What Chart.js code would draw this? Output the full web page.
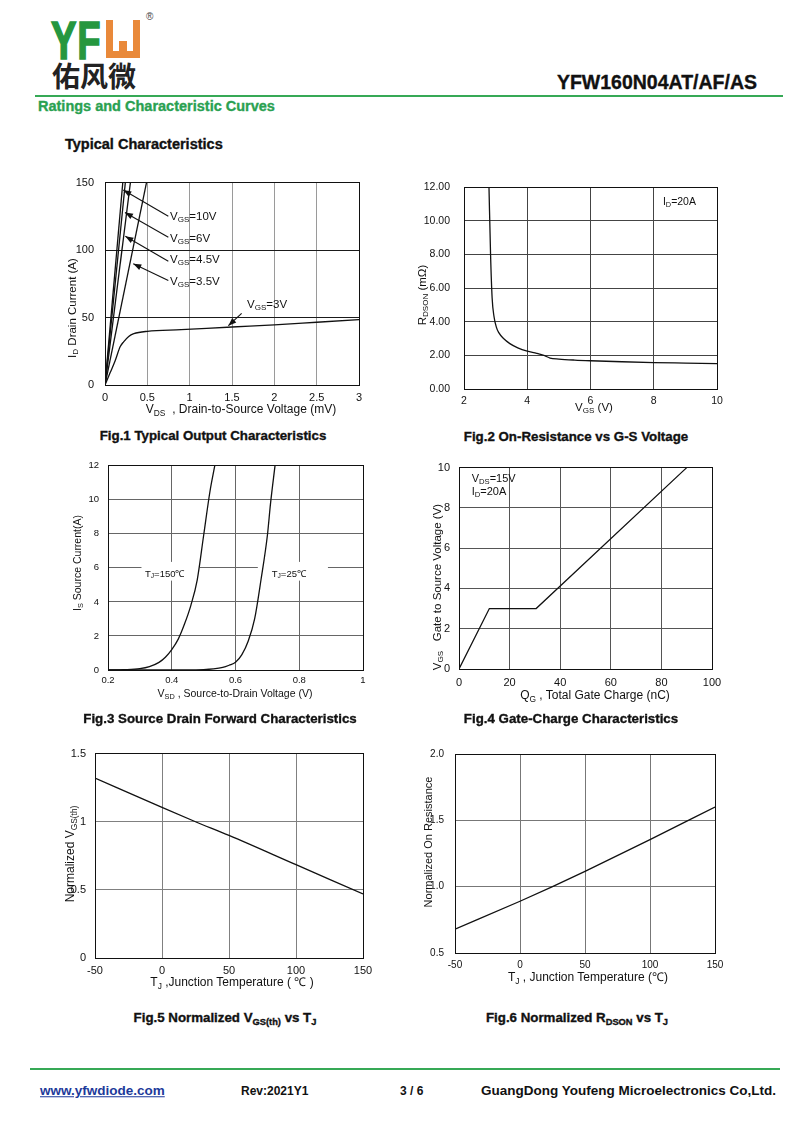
<!DOCTYPE html>
<html>
<head>
<meta charset="utf-8">
<script src="https://cdn.jsdelivr.net/npm/chart.js@4.4.1/dist/chart.umd.min.js"></script>
<style>
  body { margin: 0; background: #fff; }
  #page { position: relative; width: 800px; height: 1131px; overflow: hidden; font-family: "Liberation Sans", Arial, sans-serif; color: #111; }
  canvas { position: absolute; }
  .t { position: absolute; white-space: nowrap; line-height: 1; }
  .c { transform: translate(-50%, -50%); }
  .l { transform: translateY(-50%); }
  .r { transform: translate(-50%, -50%) rotate(-90deg); }
  .b { font-weight: bold; }
  .k { -webkit-text-stroke: 0.35px currentColor; }
  .s { font-size: 70%; position: relative; top: 0.3em; }
  .bar { position: absolute; background: #36a956; height: 2px; }
</style>
</head>
<body>
<div id="page">
  <!-- header -->
  <div class="t b" style="left:51px;top:14px;font-size:53px;color:#25973f;transform:scaleX(0.72);transform-origin:left top;letter-spacing:1px;-webkit-text-stroke:1.6px #25973f">YF</div>
  <div style="position:absolute;left:106px;top:20px;width:34px;height:38px;background:#e9893a"></div>
  <div style="position:absolute;left:113px;top:20px;width:20px;height:31px;background:#fff"></div>
  <div style="position:absolute;left:119px;top:41px;width:8px;height:10px;background:#e9893a"></div>
  <div class="t" style="left:146px;top:12px;font-size:10px;color:#444">®</div>
  <div class="t b" style="left:52px;top:61px;font-size:28px;font-family:'Noto Sans CJK SC';color:#222">佑风微</div>
  <div class="t b k l" style="right:43px;top:83px;font-size:19.5px">YFW160N04AT/AF/AS</div>
  <div class="bar" style="left:35px;top:95px;width:748px"></div>
  <div class="t b k l" style="left:38px;top:106px;font-size:14.5px;color:#2aa151">Ratings and Characteristic Curves</div>
  <div class="t b k l" style="left:65px;top:144px;font-size:14.5px">Typical Characteristics</div>

  <canvas id="c1"></canvas>
  <canvas id="c2"></canvas>
  <canvas id="c3"></canvas>
  <canvas id="c4"></canvas>
  <canvas id="c5"></canvas>
  <canvas id="c6"></canvas>

  <!-- axis titles -->
  <div class="t c" style="left:241px;top:409px;font-size:12px">V<span class="s">DS</span>&nbsp; , Drain-to-Source Voltage (mV)</div>
  <div class="t r" style="left:73px;top:308px;font-size:11.5px">I<span class="s">D</span> Drain Current (A)</div>
  <div class="t c" style="left:594px;top:408px;font-size:11.5px">V<span class="s">GS</span> (V)</div>
  <div class="t r" style="left:423px;top:295px;font-size:11.5px">R<span class="s">DSON</span> (mΩ)</div>
  <div class="t c" style="left:235px;top:693px;font-size:10.5px">V<span class="s">SD</span> , Source-to-Drain Voltage (V)</div>
  <div class="t r" style="left:77px;top:563px;font-size:10.5px">I<span class="s">S</span> Source Current(A)</div>
  <div class="t c" style="left:595px;top:695px;font-size:12px">Q<span class="s">G</span> , Total Gate Charge (nC)</div>
  <div class="t r" style="left:438px;top:587px;font-size:11.5px">V<span class="s">GS</span>&nbsp;&nbsp; Gate to Source Voltage (V)</div>
  <div class="t c" style="left:232px;top:982px;font-size:12px">T<span class="s">J</span> ,Junction Temperature ( ℃ )</div>
  <div class="t r" style="left:70px;top:854px;font-size:12px">Normalized V<span class="s">GS(th)</span></div>
  <div class="t c" style="left:588px;top:977px;font-size:12px">T<span class="s">J</span> , Junction Temperature (℃)</div>
  <div class="t r" style="left:428px;top:842px;font-size:11px">Normalized On Resistance</div>

  <!-- captions -->
  <div class="t b k c" style="left:213px;top:436px;font-size:13.3px">Fig.1 Typical Output Characteristics</div>
  <div class="t b k c" style="left:576px;top:437px;font-size:13.3px">Fig.2 On-Resistance vs G-S Voltage</div>
  <div class="t b k c" style="left:220px;top:719px;font-size:13.3px">Fig.3 Source Drain Forward Characteristics</div>
  <div class="t b k c" style="left:571px;top:719px;font-size:13.3px">Fig.4 Gate-Charge Characteristics</div>
  <div class="t b k c" style="left:225px;top:1018px;font-size:13.3px">Fig.5 Normalized V<span class="s">GS(th)</span> vs T<span class="s">J</span></div>
  <div class="t b k c" style="left:577px;top:1018px;font-size:13.3px">Fig.6 Normalized R<span class="s">DSON</span> vs T<span class="s">J</span></div>

  <!-- footer -->
  <div class="bar" style="left:30px;top:1068px;width:750px"></div>
  <div class="t b l" style="left:40px;top:1091px;font-size:13.5px;color:#1d3a9a;text-decoration:underline">www.yfwdiode.com</div>
  <div class="t b l" style="left:241px;top:1091px;font-size:12px">Rev:2021Y1</div>
  <div class="t b l" style="left:400px;top:1091px;font-size:12px">3 / 6</div>
  <div class="t b l" style="left:481px;top:1091px;font-size:13.5px">GuangDong Youfeng Microelectronics Co,Ltd.</div>
</div>

<script>
// Fig.1 output characteristics
const fig1XTicks = [0, 0.5, 1, 1.5, 2, 2.5, 3];
const fig1YTicks = [0, 50, 100, 150];
const fig1Vds10 = [0, 0.21],  fig1Id10 = [0, 150];
const fig1Vds6 = [0, 0.24],   fig1Id6 = [0, 150];
const fig1Vds45 = [0, 0.30],  fig1Id45 = [0, 150];
const fig1Vds35 = [0, 0.49],  fig1Id35 = [0, 150];
const fig1Vds3 = [0, 0.06, 0.12, 0.18, 0.22, 0.28, 0.34, 0.5, 0.9, 1.5, 2, 2.5, 3];
const fig1Id3 = [0, 9, 18, 28.5, 32, 36, 38, 39.8, 41, 43, 44.5, 46.5, 48.5];

// Fig.2 on-resistance vs VGS
const fig2XTicks = [2, 4, 6, 8, 10];
const fig2YTicks = [0, 2, 4, 6, 8, 10, 12];
const fig2Vgs = [2.79, 2.84, 2.89, 2.95, 3.02, 3.1, 3.25, 3.45, 3.7, 4.0, 4.3, 4.55, 4.72, 5.0, 5.5, 6, 7, 8, 9, 10];
const fig2Rds = [12, 8, 5.4, 4.3, 3.7, 3.35, 3.0, 2.7, 2.45, 2.25, 2.12, 1.98, 1.84, 1.78, 1.72, 1.68, 1.62, 1.57, 1.54, 1.51];

// Fig.3 source-drain forward
const fig3XTicks = [0.2, 0.4, 0.6, 0.8, 1];
const fig3YTicks = [0, 2, 4, 6, 8, 10, 12];
const fig3Vsd150 = [0.2, 0.25, 0.3, 0.33, 0.36, 0.38, 0.4, 0.42, 0.44, 0.46, 0.48, 0.5, 0.52, 0.535];
const fig3Is150 = [0, 0.02, 0.08, 0.2, 0.45, 0.75, 1.2, 1.8, 2.7, 3.8, 5.3, 7.9, 10.5, 12];
const fig3Vsd25 = [0.2, 0.45, 0.5, 0.53, 0.56, 0.58, 0.6, 0.62, 0.64, 0.66, 0.68, 0.7, 0.71, 0.724];
const fig3Is25 = [0, 0, 0.02, 0.06, 0.15, 0.28, 0.45, 0.9, 1.7, 3.0, 5.3, 7.9, 9.8, 12];

// Fig.4 gate charge
const fig4XTicks = [0, 20, 40, 60, 80, 100];
const fig4YTicks = [0, 2, 4, 6, 8, 10];
const fig4Qg = [0, 12, 30.5, 90];
const fig4Vgs = [0, 3, 3, 10];

// Fig.5 normalized VGS(th)
const fig5XTicks = [-50, 0, 50, 100, 150];
const fig5YTicks = [0, 0.5, 1, 1.5];
const fig5Tj = [-50, 0, 25, 50, 100, 150];
const fig5Vth = [1.32, 1.105, 1.0, 0.9, 0.685, 0.47];

// Fig.6 normalized RDSON
const fig6XTicks = [-50, 0, 50, 100, 150];
const fig6YTicks = [0.5, 1.0, 1.5, 2.0];
const fig6Tj = [-50, 0, 25, 50, 100, 150];
const fig6Rds = [0.68, 0.89, 1.0, 1.115, 1.355, 1.6];

const FONT = '"Liberation Sans", Arial, sans-serif';
const ML = 50, MT = 10, MR = 22, MB = 22;

function subText(ctx, x, y, parts, size) {
  ctx.textBaseline = 'middle';
  ctx.textAlign = 'left';
  let cx = x;
  parts.forEach(([t, s]) => {
    ctx.font = (s ? size * 0.7 : size) + 'px ' + FONT;
    ctx.fillText(t, cx, y + (s ? size * 0.28 : 0));
    cx += ctx.measureText(t).width;
  });
}

function arrow(ctx, x1, y1, x2, y2) {
  ctx.beginPath(); ctx.moveTo(x1, y1); ctx.lineTo(x2, y2); ctx.stroke();
  const a = Math.atan2(y2 - y1, x2 - x1), L = 8, W = 3;
  ctx.beginPath();
  ctx.moveTo(x2, y2);
  ctx.lineTo(x2 - L * Math.cos(a) + W * Math.sin(a), y2 - L * Math.sin(a) - W * Math.cos(a));
  ctx.lineTo(x2 - L * Math.cos(a) - W * Math.sin(a), y2 - L * Math.sin(a) + W * Math.cos(a));
  ctx.closePath(); ctx.fill();
}

function notesPlugin(o) {
  return {
    id: 'notes',
    beforeDatasetsDraw(chart) {
      const ctx = chart.ctx, X = chart.scales.x, Y = chart.scales.y;
      ctx.save();
      ctx.fillStyle = '#fff';
      (o.boxes || []).forEach(b => {
        const x1 = X.getPixelForValue(b[0]), x2 = X.getPixelForValue(b[1]);
        const y1 = Y.getPixelForValue(b[2]), y2 = Y.getPixelForValue(b[3]);
        ctx.fillRect(x1, y1, x2 - x1, y2 - y1);
      });
      ctx.restore();
    },
    afterDatasetsDraw(chart) {
      const ctx = chart.ctx, a = chart.chartArea, X = chart.scales.x, Y = chart.scales.y;
      ctx.save();
      ctx.strokeStyle = '#111'; ctx.lineWidth = 1;
      const al = p => Math.round(p - 0.5) + 0.5;
      ctx.strokeRect(al(a.left), al(a.top), al(a.right) - al(a.left), al(a.bottom) - al(a.top));
      ctx.fillStyle = '#111';
      (o.labels || []).forEach(l => subText(ctx, X.getPixelForValue(l.x), Y.getPixelForValue(l.y), l.parts, l.size));
      ctx.lineWidth = 1.1;
      (o.arrows || []).forEach(r => arrow(ctx, X.getPixelForValue(r[0]), Y.getPixelForValue(r[1]), X.getPixelForValue(r[2]), Y.getPixelForValue(r[3])));
      ctx.restore();
    }
  };
}

function makeChart(id, plot, o) {
  const cv = document.getElementById(id);
  cv.width = plot[1] - plot[0] + ML + MR;
  cv.height = plot[3] - plot[2] + MT + MB;
  cv.style.left = (plot[0] - ML) + 'px';
  cv.style.top = (plot[2] - MT) + 'px';
  const tickFont = { family: FONT, size: o.fs };
  return new Chart(cv, {
    type: 'line',
    data: {
      datasets: o.sets.map(s => ({
        data: s.x.map((x, i) => ({ x: x, y: s.y[i] })),
        borderColor: '#111', borderWidth: 1.3, pointRadius: 0, fill: false,
        cubicInterpolationMode: s.smooth ? 'monotone' : 'default', tension: 0
      }))
    },
    options: {
      responsive: false, animation: false, events: [],
      layout: { padding: { left: 0, top: MT, right: MR, bottom: 0 } },
      plugins: { legend: { display: false }, tooltip: { enabled: false } },
      scales: {
        x: {
          type: 'linear', min: o.xt[0], max: o.xt[o.xt.length - 1],
          afterBuildTicks: s => { s.ticks = o.xt.map(v => ({ value: v })); },
          afterFit: s => { s.height = MB; },
          grid: { color: o.xg, drawTicks: false },
          border: { display: false },
          ticks: { padding: o.xp, color: '#111', font: tickFont, maxRotation: 0, autoSkip: false, callback: o.xf || (v => String(v)) }
        },
        y: {
          type: 'linear', min: o.yt[0], max: o.yt[o.yt.length - 1],
          afterBuildTicks: s => { s.ticks = o.yt.map(v => ({ value: v })); },
          afterFit: s => { s.width = ML; },
          grid: { color: o.yg, drawTicks: false },
          border: { display: false },
          ticks: { padding: o.yp, color: '#111', font: tickFont, autoSkip: false, callback: o.yf || (v => String(v)) }
        }
      }
    },
    plugins: [notesPlugin(o)]
  });
}

const vgs = (v) => [['V', 0], ['GS', 1], ['=' + v, 0]];

makeChart('c1', [105, 359, 175, 385], {
  xt: fig1XTicks, yt: fig1YTicks, xg: '#9a9a9a', yg: '#1a1a1a', fs: 11, xp: 6, yp: 11,
  sets: [
    { x: fig1Vds10, y: fig1Id10 }, { x: fig1Vds6, y: fig1Id6 },
    { x: fig1Vds45, y: fig1Id45 }, { x: fig1Vds35, y: fig1Id35 },
    { x: fig1Vds3, y: fig1Id3, smooth: true }
  ],
  labels: [
    { x: 0.768, y: 125, parts: vgs('10V'), size: 11.5 },
    { x: 0.768, y: 108.6, parts: vgs('6V'), size: 11.5 },
    { x: 0.768, y: 92.9, parts: vgs('4.5V'), size: 11.5 },
    { x: 0.768, y: 76.4, parts: vgs('3.5V'), size: 11.5 },
    { x: 1.677, y: 59.3, parts: vgs('3V'), size: 11.5 }
  ],
  arrows: [
    [0.748, 125, 0.216, 144.5], [0.748, 109.5, 0.236, 127.9],
    [0.748, 91.7, 0.24, 110.2], [0.748, 77.4, 0.334, 89.8],
    [1.614, 53.1, 1.457, 44]
  ]
});

makeChart('c2', [464, 717, 177, 389], {
  xt: fig2XTicks, yt: fig2YTicks, xg: '#444', yg: '#444', fs: 10.5, xp: 6, yp: 14,
  yf: v => v.toFixed(2),
  sets: [{ x: fig2Vgs, y: fig2Rds, smooth: true }],
  labels: [{ x: 8.29, y: 11.1, parts: [['I', 0], ['D', 1], ['=20A', 0]], size: 10.5 }]
});

makeChart('c3', [108, 363, 461, 670], {
  xt: fig3XTicks, yt: fig3YTicks, xg: '#666', yg: '#666', fs: 9.5, xp: 5, yp: 9,
  sets: [{ x: fig3Vsd150, y: fig3Is150, smooth: true }, { x: fig3Vsd25, y: fig3Is25, smooth: true }],
  boxes: [[0.305, 0.488, 6.35, 5.25], [0.67, 0.89, 6.35, 5.25]],
  labels: [
    { x: 0.316, y: 5.64, parts: [['T', 0], ['J', 1], ['=150℃', 0]], size: 9.5 },
    { x: 0.7136, y: 5.64, parts: [['T', 0], ['J', 1], ['=25℃', 0]], size: 9.5 }
  ]
});

makeChart('c4', [459, 712, 462, 669], {
  xt: fig4XTicks, yt: fig4YTicks, xg: '#555', yg: '#555', fs: 11, xp: 7, yp: 9,
  sets: [{ x: fig4Qg, y: fig4Vgs }],
  labels: [
    { x: 5.0, y: 9.42, parts: [['V', 0], ['DS', 1], ['=15V', 0]], size: 11 },
    { x: 5.0, y: 8.8, parts: [['I', 0], ['D', 1], ['=20A', 0]], size: 11 }
  ]
});

makeChart('c5', [95, 363, 748, 958], {
  xt: fig5XTicks, yt: fig5YTicks, xg: '#808080', yg: '#808080', fs: 11, xp: 6, yp: 9,
  sets: [{ x: fig5Tj, y: fig5Vth, smooth: true }]
});

makeChart('c6', [455, 715, 747, 953], {
  xt: fig6XTicks, yt: fig6YTicks, xg: '#777', yg: '#777', fs: 10, xp: 6, yp: 11,
  yf: v => v.toFixed(1),
  sets: [{ x: fig6Tj, y: fig6Rds, smooth: true }]
});
</script>
</body>
</html>
